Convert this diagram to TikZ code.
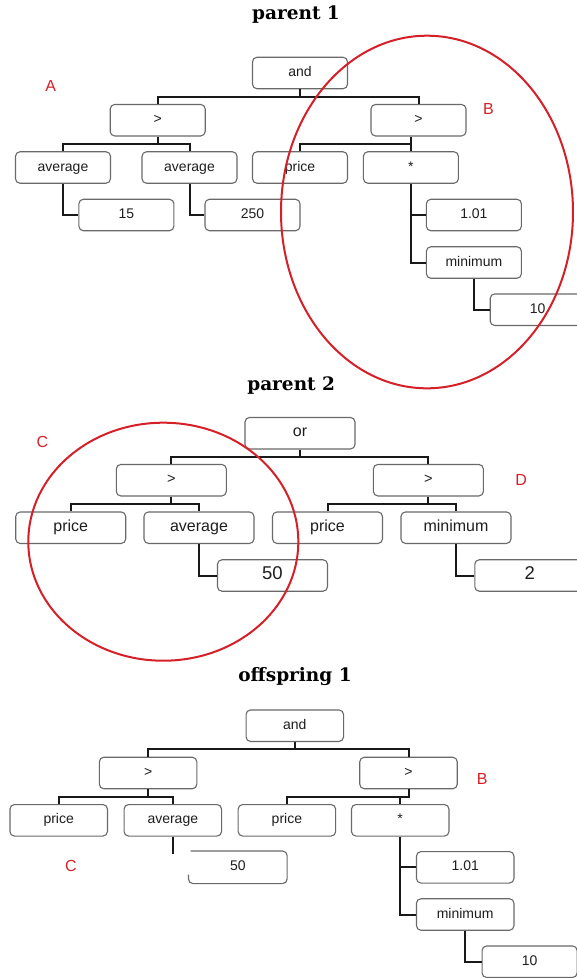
\documentclass[tikz,border=0pt]{standalone}
\usepackage{fontspec}
\setmainfont{Liberation Sans}
\newfontfamily\titlefont{DejaVu Serif}
\usetikzlibrary{calc}
\definecolor{redmark}{RGB}{214,32,40}
\definecolor{boxgray}{RGB}{105,105,105}
\definecolor{txt}{RGB}{30,30,30}
\tikzset{
 gbox/.style={draw=boxgray, line width=1.1pt, rounded corners=4.5pt, fill=white,
   minimum height=31.5pt, inner sep=0pt, text=txt, text height=0.716em, text depth=0pt,
   font=\fontsize{14}{16}\selectfont},
 boxA/.style={gbox, minimum width=95pt},
 boxB/.style={gbox, minimum width=110pt, font=\fontsize{16}{18}\selectfont},
 boxBn/.style={boxB, font=\fontsize{18.5}{20}\selectfont},
 boxC/.style={gbox, minimum width=97.5pt},
 conn/.style={line width=2pt, draw=black!90},
 titletext/.style={font=\titlefont\bfseries\fontsize{18.5}{22}\selectfont, anchor=base, text=black},
 redlabel/.style={text=redmark, font=\fontsize{16}{18}\selectfont},
 circ/.style={draw=redmark, line width=2pt},
}
\begin{document}
\begin{tikzpicture}[x=1pt,y=-1pt]
\useasboundingbox (0,0) rectangle (577,978);
\fill[white] (0,0) rectangle (577,978);

% ---------------- parent 1 ----------------
\node[titletext] (t1) at (296,19.5) {parent 1};
\node[boxA] (and1) at (300,73) {and};
\node[boxA] (gtL1) at (157.7,120.2) {>};
\node[boxA] (gtR1) at (418.5,120.2) {>};
\node[boxA] (avg1a) at (63,167.5) {average};
\node[boxA] (avg1b) at (189.5,167.5) {average};
\node[boxA] (price1) at (300,167.5) {price};
\node[boxA] (mul1) at (410.9,167.5) {*};
\node[boxA] (n15) at (126.4,215) {15};
\node[boxA] (n250) at (252.5,215) {250};
\node[boxA] (n101) at (473.9,215) {1.01};
\node[boxA] (min1) at (473.9,262.5) {minimum};
\node[boxA] (n10) at (537.7,309.7) {10};
\coordinate (b1a) at (0,96.7);
\coordinate (b1b) at (0,144);
\draw[conn] (and1.south) -- (and1.south |- b1a) -| (gtL1.north);
\draw[conn] (and1.south |- b1a) -| (gtR1.north);
\draw[conn] (gtL1.south) -- (gtL1.south |- b1b) -| (avg1a.north);
\draw[conn] (gtL1.south |- b1b) -| (avg1b.north);
\draw[conn] (gtR1.south -| mul1.north) -- (mul1.north);
\draw[conn] (mul1.north |- b1b) -| (price1.north);
\draw[conn] (avg1a.south) |- (n15.west);
\draw[conn] (avg1b.south) |- (n250.west);
\draw[conn] (mul1.south) |- (n101.west);
\draw[conn] (mul1.south) |- (min1.west);
\draw[conn] (min1.south) |- (n10.west);
\node[redlabel] (lA) at (50.8,86) {A};
\node[redlabel] (lB1) at (488.5,108.5) {B};

% ---------------- parent 2 ----------------
\node[titletext] (t2) at (291.2,390.5) {parent 2};
\node[boxB] (or2) at (300,433.2) {or};
\node[boxB, font=\fontsize{14.5}{16}\selectfont] (gt2L) at (171.3,480.2) {>};
\node[boxB, font=\fontsize{14.5}{16}\selectfont] (gt2R) at (428.4,480.2) {>};
\node[boxB] (price2L) at (70.7,527.7) {price};
\node[boxB] (avg2) at (199,527.7) {average};
\node[boxB] (price2R) at (327.5,527.7) {price};
\node[boxB] (min2) at (456,527.7) {minimum};
\node[boxBn] (n50) at (272.5,575.5) {50};
\node[boxBn] (n2) at (529.8,575.5) {2};
\coordinate (b2a) at (0,456.7);
\coordinate (b2b) at (0,504);
\draw[conn] (or2.south) -- (or2.south |- b2a) -| (gt2L.north);
\draw[conn] (or2.south |- b2a) -| (gt2R.north);
\draw[conn] (gt2L.south) -- (gt2L.south |- b2b) -| (price2L.north);
\draw[conn] (gt2L.south |- b2b) -| (avg2.north);
\draw[conn] (gt2R.south) -- (gt2R.south |- b2b) -| (price2R.north);
\draw[conn] (gt2R.south |- b2b) -| (min2.north);
\draw[conn] (avg2.south) |- (n50.west);
\draw[conn] (min2.south) |- (n2.west);
\node[redlabel] (lC1) at (42.3,441.7) {C};
\node[redlabel] (lD) at (521.2,480) {D};

% ---------------- offspring 1 ----------------
\node[titletext] (t3) at (295,681) {offspring 1};
\node[boxC] (and3) at (294.8,725.7) {and};
\node[boxC] (gtL3) at (148.1,773) {>};
\node[boxC] (gtR3) at (408.5,773) {>};
\node[boxC] (price3L) at (58.7,820.3) {price};
\node[boxC] (avg3) at (172.8,820.3) {average};
\node[boxC] (price3R) at (286.9,820.3) {price};
\node[boxC] (mul3) at (400.2,820.3) {*};
\node[boxC, draw=none] (n50b) at (237.8,867.3) {50};
\node[boxC] (n101b) at (465.2,867.3) {1.01};
\node[boxC] (min3) at (465.2,914.5) {minimum};
\node[boxC, minimum width=95pt] (n10b) at (529.6,961.7) {10};
\draw[draw=boxgray, line width=1.1pt, rounded corners=4.5pt]
  ($(n50b.south west)+(0,-9)$) -- (n50b.south west) -- (n50b.south east)
  -- (n50b.north east) -- ($(n50b.north west)+(2,0)$);
\coordinate (b3a) at (0,749.3);
\coordinate (b3b) at (0,796.7);
\coordinate (stub) at (0,854.3);
\draw[conn] (and3.south) -- (and3.south |- b3a) -| (gtL3.north);
\draw[conn] (and3.south |- b3a) -| (gtR3.north);
\draw[conn] (gtL3.south) -- (gtL3.south |- b3b) -| (price3L.north);
\draw[conn] (gtL3.south |- b3b) -| (avg3.north);
\draw[conn] (gtR3.south) -- (gtR3.south |- b3b) -| (price3R.north);
\draw[conn] (mul3.north |- b3b) -- (mul3.north);
\draw[conn] (avg3.south) -- (avg3.south |- stub);
\draw[conn] (mul3.south) |- (n101b.west);
\draw[conn] (mul3.south) |- (min3.west);
\draw[conn] (min3.south) |- (n10b.west);
\node[redlabel] (lB2) at (482.1,779) {B};
\node[redlabel] (lC2) at (71,865.7) {C};

% ---------------- red ellipses ----------------
\draw[circ] (427,212) ellipse [x radius=146, y radius=176.3];
\draw[circ] (163.3,541.7) ellipse [x radius=135, y radius=119];
\end{tikzpicture}
\end{document}
